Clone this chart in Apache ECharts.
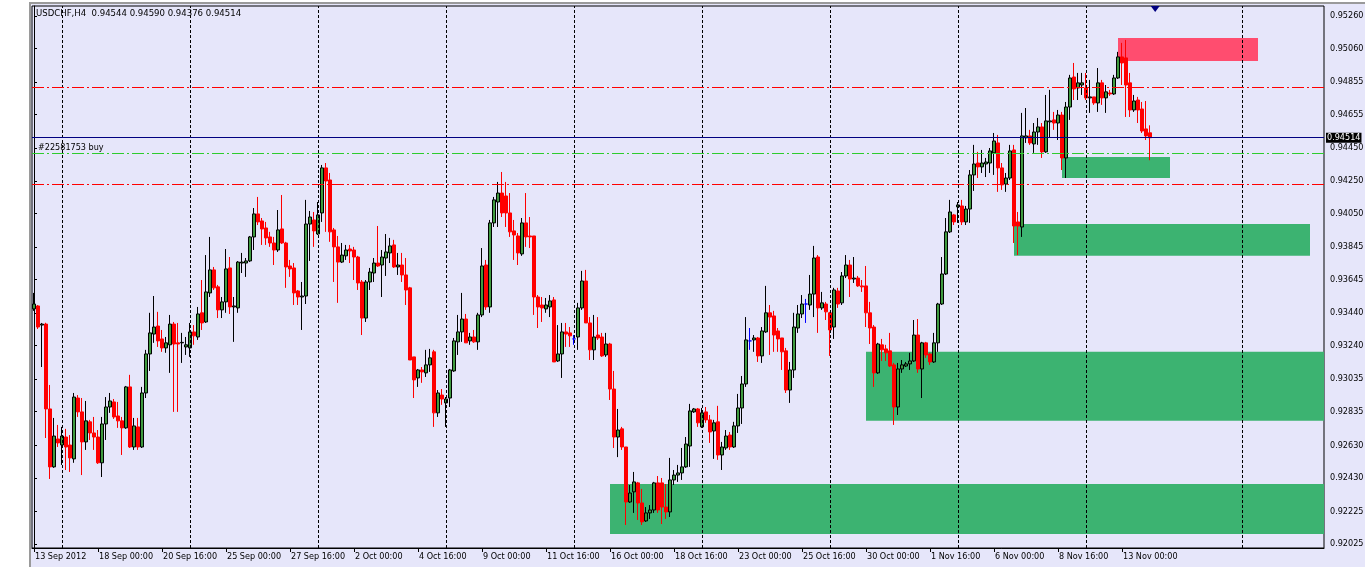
<!DOCTYPE html>
<html><head><meta charset="utf-8">
<script src="https://cdn.jsdelivr.net/npm/echarts@6/dist/echarts.min.js"></script>
<style>
html,body{margin:0;padding:0;background:#fff;overflow:hidden;}
#frame{position:absolute;left:29px;top:2px;width:1334px;height:563px;background:#E6E6FA;border-left:2px solid #9a9a9a;border-top:2px solid #9a9a9a;}
#chart{position:absolute;left:0;top:0;width:1365px;height:567px;}
</style></head><body>
<div id="frame"></div><div id="chart"></div>
<script>
// ---- H4 bars, USDCHF (open / close / low / high) ----
const open = [
0.93465,0.93483,0.93366,0.93372,0.92852,0.92497,0.92668,0.92631,0.92680,0.92631,
0.92546,0.92919,0.92834,0.92650,0.92773,0.92705,0.92680,0.92522,0.92760,0.92864,
0.92895,0.92809,0.92779,0.92736,0.92987,0.92619,0.92742,0.92619,0.92950,0.93189,
0.93311,0.93360,0.93281,0.93226,0.93245,0.93372,0.93257,0.93257,0.93232,0.93226,
0.93324,0.93293,0.93441,0.93385,0.93563,0.93704,0.93600,0.93459,0.93508,0.93716,
0.93477,0.93471,0.93746,0.93746,0.93759,0.93906,0.94047,0.94004,0.93961,0.93906,
0.93869,0.93826,0.93955,0.93869,0.93728,0.93716,0.93575,0.93538,0.93544,0.93985,
0.94010,0.93924,0.94053,0.94329,0.94255,0.93949,0.93845,0.93752,0.93790,0.93832,
0.93826,0.93783,0.93630,0.93409,0.93630,0.93685,0.93746,0.93734,0.93777,0.93808,
0.93857,0.93722,0.93734,0.93673,0.93594,0.93171,0.93042,0.93091,0.93073,0.93122,
0.93202,0.92828,0.92937,0.92889,0.92919,0.93085,0.93263,0.93324,0.93403,0.93269,
0.93293,0.93263,0.93428,0.93734,0.93477,0.93992,0.94120,0.94175,0.94157,0.94053,
0.93943,0.93912,0.93802,0.93992,0.93912,0.93912,0.93538,0.93489,0.93465,0.93477,
0.93520,0.93146,0.93189,0.93324,0.93318,0.93281,0.93293,0.93471,0.93636,0.93379,
0.93214,0.93305,0.93293,0.93183,0.93250,0.92974,0.92680,0.92730,0.92619,0.92282,
0.92344,0.92399,0.92276,0.92166,0.92215,0.92233,0.92399,0.92399,0.92251,0.92221,
0.92417,0.92447,0.92460,0.92497,0.92625,0.92834,0.92852,0.92742,0.92834,0.92785,
0.92717,0.92773,0.92570,0.92613,0.92692,0.92619,0.92748,0.92858,0.93005,0.93269,
0.93275,0.93287,0.93177,0.93324,0.93441,0.93422,0.93330,0.93287,0.93208,0.92968,
0.93091,0.93348,0.93434,0.93495,0.93489,0.93556,0.93783,0.93471,0.93495,0.93441,
0.93354,0.93575,0.93502,0.93667,0.93734,0.93648,0.93654,0.93606,0.93606,0.93441,
0.93354,0.93073,0.93245,0.93220,0.93208,0.93122,0.92864,0.93097,0.93115,0.93128,
0.93146,0.93305,0.93097,0.93257,0.93189,0.93140,0.93257,0.93495,0.93679,0.93937,
0.94041,0.94090,0.94096,0.93998,0.94077,0.94286,0.94359,0.94335,0.94353,0.94359,
0.94421,0.94482,0.94329,0.94230,0.94267,0.94439,0.93998,0.93967,0.94513,0.94525,
0.94476,0.94549,0.94580,0.94427,0.94611,0.94623,0.94604,0.94653,0.94390,0.94702,
0.94886,0.94819,0.94837,0.94819,0.94758,0.94764,0.94727,0.94850,0.94758,0.94788,
0.94782,0.94880,0.95009,0.95003,0.94850,0.94684,0.94745,0.94690,0.94568,0.94544];
const close = [
0.93495,0.93354,0.93372,0.92852,0.92497,0.92686,0.92644,0.92686,0.92619,0.92552,
0.92925,0.92834,0.92650,0.92779,0.92705,0.92680,0.92522,0.92760,0.92864,0.92901,
0.92803,0.92779,0.92736,0.92987,0.92619,0.92748,0.92619,0.92950,0.93189,0.93318,
0.93354,0.93269,0.93226,0.93257,0.93372,0.93250,0.93250,0.93260,0.93245,0.93324,
0.93300,0.93434,0.93379,0.93569,0.93704,0.93594,0.93459,0.93508,0.93710,0.93477,
0.93483,0.93752,0.93752,0.93759,0.93906,0.94047,0.93998,0.93955,0.93900,0.93869,
0.93826,0.93949,0.93869,0.93722,0.93710,0.93563,0.93538,0.93544,0.93985,0.94028,
0.93943,0.94041,0.94329,0.94249,0.93937,0.93845,0.93752,0.93795,0.93826,0.93820,
0.93783,0.93624,0.93409,0.93630,0.93691,0.93746,0.93728,0.93783,0.93814,0.93851,
0.93722,0.93734,0.93673,0.93581,0.93152,0.93030,0.93091,0.93079,0.93122,0.93165,
0.92828,0.92950,0.92913,0.92913,0.93091,0.93269,0.93324,0.93403,0.93257,0.93293,
0.93263,0.93428,0.93728,0.93477,0.93992,0.94133,0.94175,0.94053,0.94053,0.93937,
0.93918,0.93808,0.93992,0.93906,0.93906,0.93538,0.93477,0.93471,0.93489,0.93514,
0.93140,0.93189,0.93324,0.93311,0.93300,0.93281,0.93471,0.93636,0.93379,0.93214,
0.93293,0.93287,0.93177,0.93250,0.92974,0.92680,0.92723,0.92619,0.92282,0.92337,
0.92405,0.92276,0.92160,0.92215,0.92233,0.92399,0.92233,0.92251,0.92221,0.92417,
0.92447,0.92460,0.92497,0.92637,0.92840,0.92852,0.92767,0.92828,0.92785,0.92711,
0.92767,0.92570,0.92619,0.92686,0.92619,0.92748,0.92858,0.93005,0.93275,0.93269,
0.93287,0.93177,0.93330,0.93441,0.93415,0.93305,0.93281,0.93202,0.92968,0.93091,
0.93354,0.93434,0.93495,0.93495,0.93556,0.93777,0.93471,0.93502,0.93447,0.93336,
0.93581,0.93495,0.93667,0.93734,0.93648,0.93654,0.93606,0.93600,0.93441,0.93348,
0.93073,0.93250,0.93214,0.93196,0.93115,0.92864,0.93097,0.93122,0.93128,0.93146,
0.93305,0.93097,0.93257,0.93183,0.93140,0.93257,0.93495,0.93679,0.93937,0.94059,
0.93998,0.94102,0.93998,0.94077,0.94286,0.94353,0.94335,0.94359,0.94365,0.94433,
0.94494,0.94329,0.94225,0.94267,0.94433,0.93973,0.93973,0.94525,0.94525,0.94482,
0.94549,0.94580,0.94427,0.94617,0.94617,0.94604,0.94653,0.94390,0.94702,0.94880,
0.94813,0.94850,0.94850,0.94758,0.94764,0.94727,0.94850,0.94758,0.94795,0.94782,
0.94880,0.95009,0.94972,0.94837,0.94684,0.94739,0.94684,0.94555,0.94525,0.94514];
const low = [
0.93453,0.93342,0.93109,0.92674,0.92423,0.92491,0.92619,0.92509,0.92478,0.92466,
0.92522,0.92803,0.92447,0.92601,0.92662,0.92601,0.92515,0.92435,0.92662,0.92828,
0.92791,0.92736,0.92570,0.92730,0.92613,0.92601,0.92601,0.92613,0.92919,0.93085,
0.93257,0.93232,0.93202,0.93196,0.93073,0.92834,0.92834,0.93134,0.93183,0.93171,
0.93245,0.93275,0.93336,0.93379,0.93538,0.93581,0.93409,0.93409,0.93441,0.93434,
0.93263,0.93441,0.93685,0.93661,0.93752,0.93826,0.93979,0.93857,0.93857,0.93845,
0.93734,0.93814,0.93863,0.93594,0.93661,0.93489,0.93489,0.93336,0.93495,0.93759,
0.93845,0.93918,0.93998,0.93937,0.93876,0.93630,0.93502,0.93746,0.93765,0.93746,
0.93642,0.93581,0.93305,0.93385,0.93581,0.93630,0.93722,0.93538,0.93667,0.93746,
0.93716,0.93673,0.93630,0.93489,0.93152,0.92919,0.92987,0.93012,0.93048,0.93079,
0.92742,0.92803,0.92877,0.92742,0.92864,0.93079,0.93183,0.93263,0.93257,0.93245,
0.93257,0.93214,0.93415,0.93459,0.93441,0.93967,0.93967,0.94028,0.93967,0.93906,
0.93765,0.93734,0.93790,0.93845,0.93838,0.93428,0.93348,0.93385,0.93441,0.93415,
0.93140,0.93140,0.93042,0.93232,0.93232,0.93245,0.93214,0.93459,0.93379,0.93152,
0.93152,0.93275,0.93171,0.93171,0.92907,0.92613,0.92557,0.92601,0.92141,0.92276,
0.92215,0.92172,0.92141,0.92160,0.92178,0.92215,0.92215,0.92147,0.92178,0.92190,
0.92386,0.92405,0.92417,0.92491,0.92497,0.92828,0.92742,0.92736,0.92767,0.92644,
0.92546,0.92540,0.92478,0.92601,0.92601,0.92613,0.92705,0.92760,0.92987,0.93214,
0.93202,0.93140,0.93134,0.93318,0.93183,0.93202,0.93202,0.93091,0.92950,0.92889,
0.93042,0.93318,0.93409,0.93379,0.93459,0.93415,0.93318,0.93459,0.93397,0.93177,
0.93281,0.93471,0.93489,0.93654,0.93538,0.93624,0.93600,0.93569,0.93354,0.93250,
0.92987,0.93067,0.93146,0.93146,0.93109,0.92754,0.92815,0.93073,0.93109,0.93091,
0.93140,0.93073,0.92919,0.93165,0.93122,0.93134,0.93202,0.93489,0.93673,0.93930,
0.93979,0.93992,0.93979,0.93979,0.93992,0.94188,0.94267,0.94298,0.94273,0.94298,
0.94286,0.94182,0.94194,0.94182,0.94255,0.93869,0.93795,0.93906,0.94482,0.94470,
0.94421,0.94470,0.94390,0.94421,0.94513,0.94562,0.94500,0.94316,0.94267,0.94623,
0.94745,0.94745,0.94776,0.94745,0.94666,0.94715,0.94672,0.94715,0.94666,0.94770,
0.94776,0.94874,0.94837,0.94641,0.94641,0.94672,0.94604,0.94543,0.94500,0.94376];
const high = [
0.93563,0.93489,0.93379,0.93380,0.92999,0.92797,0.92754,0.92742,0.92730,0.92692,
0.92950,0.92937,0.92919,0.92901,0.92785,0.92803,0.92723,0.92803,0.92925,0.92950,
0.92913,0.92895,0.92803,0.92993,0.93061,0.92797,0.92797,0.92987,0.93214,0.93441,
0.93544,0.93447,0.93336,0.93293,0.93428,0.93385,0.93379,0.93318,0.93293,0.93379,
0.93366,0.93477,0.93642,0.93795,0.93906,0.93722,0.93612,0.93538,0.93832,0.93783,
0.93538,0.93758,0.93808,0.93777,0.93912,0.94083,0.94151,0.94022,0.93998,0.93937,
0.93906,0.94071,0.94163,0.93876,0.93765,0.93746,0.93581,0.93630,0.94133,0.94065,
0.94059,0.94120,0.94347,0.94359,0.94298,0.93961,0.93912,0.93869,0.93857,0.93857,
0.93845,0.93790,0.93642,0.93642,0.93716,0.93777,0.93973,0.93826,0.93924,0.93900,
0.93888,0.93808,0.93808,0.93777,0.93600,0.93171,0.93097,0.93109,0.93214,0.93220,
0.93214,0.92968,0.92974,0.92925,0.93097,0.93287,0.93428,0.93563,0.93434,0.93318,
0.93336,0.93441,0.93838,0.93765,0.94010,0.94151,0.94243,0.94304,0.94243,0.94175,
0.94010,0.93930,0.94022,0.94175,0.94028,0.93912,0.93550,0.93538,0.93532,0.93550,
0.93538,0.93366,0.93379,0.93379,0.93354,0.93305,0.93502,0.93698,0.93704,0.93415,
0.93428,0.93415,0.93318,0.93318,0.93257,0.93085,0.92852,0.92742,0.92619,0.92386,
0.92466,0.92405,0.92362,0.92251,0.92263,0.92405,0.92441,0.92429,0.92392,0.92552,
0.92478,0.92509,0.92613,0.92680,0.92883,0.92858,0.92858,0.92858,0.92864,0.92815,
0.92785,0.92871,0.92650,0.92723,0.92711,0.92773,0.92944,0.93054,0.93415,0.93348,
0.93305,0.93293,0.93354,0.93606,0.93489,0.93453,0.93348,0.93287,0.93226,0.93140,
0.93441,0.93489,0.93550,0.93526,0.93673,0.93851,0.93795,0.93569,0.93508,0.93447,
0.93594,0.93594,0.93691,0.93795,0.93765,0.93783,0.93667,0.93642,0.93728,0.93508,
0.93366,0.93257,0.93281,0.93245,0.93318,0.93134,0.93134,0.93152,0.93140,0.93196,
0.93397,0.93403,0.93263,0.93263,0.93196,0.93318,0.93502,0.93783,0.94022,0.94133,
0.94047,0.94120,0.94133,0.94096,0.94316,0.94470,0.94427,0.94439,0.94390,0.94451,
0.94543,0.94531,0.94359,0.94298,0.94470,0.94470,0.94059,0.94666,0.94696,0.94562,
0.94604,0.94635,0.94604,0.94776,0.94807,0.94672,0.94684,0.94672,0.94733,0.94899,
0.94972,0.94911,0.94911,0.94911,0.94868,0.94764,0.94941,0.94868,0.94837,0.94807,
0.94899,0.95040,0.95095,0.95113,0.94911,0.94776,0.94764,0.94733,0.94739,0.94590];
const dojiBars = [135, 179, 193];           // open == close, drawn in blue

// ---- axes ----
const slotCount = 323;                       // bars + chart shift area
const dateLabels = ['13 Sep 2012','18 Sep 00:00','20 Sep 16:00','25 Sep 00:00','27 Sep 16:00',
  '2 Oct 00:00','4 Oct 16:00','9 Oct 00:00','11 Oct 16:00','16 Oct 00:00','18 Oct 16:00',
  '23 Oct 00:00','25 Oct 16:00','30 Oct 00:00','1 Nov 16:00','6 Nov 00:00','8 Nov 16:00','13 Nov 00:00'];
const labelStep = 16;
const priceTicks = [0.95260,0.95060,0.94855,0.94655,0.94450,0.94250,0.94050,0.93845,0.93645,
  0.93440,0.93240,0.93035,0.92835,0.92630,0.92430,0.92225,0.92025];
const priceMin = 0.92000, priceMax = 0.95321;
const gridBars = [7, 39, 71, 103, 135, 167, 199, 231, 263, 302];

// ---- objects ----
const title = 'USDCHF,H4  0.94544 0.94590 0.94376 0.94514';
const bidPrice = 0.94514;
const orderLevel = 0.94417, orderLabel = '#22581753 buy';
const resistanceLines = [0.94822, 0.94228];
// zones: [fromBar, toBar, top, bottom]
const demandZones = [
  [144, 322.5, 0.92392, 0.92086],
  [208, 322.5, 0.93202, 0.92779],
  [245, 319, 0.93985, 0.93790],
  [257, 284, 0.94396, 0.94267]];
const supplyZones = [[271, 306, 0.95125, 0.94984]];
const shiftMarkBar = 280.3;

const FONT = "'DejaVu Sans Condensed','DejaVu Sans',sans-serif";
const FS = 9;
const chart = echarts.init(document.getElementById('chart'), null, {renderer: 'canvas'});
const slots = Array.from({length: slotCount}, (_, i) => String(i));
const candles = open.map((o, i) => {
  const item = {value: [o, close[i], low[i], high[i]]};
  if (dojiBars.includes(i)) item.itemStyle = {color: '#0000ff', color0: '#0000ff', borderColor: '#0000ff', borderColor0: '#0000ff'};
  return item;
});
const showLabel = (idx) => idx % labelStep === 0 && idx / labelStep < dateLabels.length;
const zoneData = [];
demandZones.forEach(z => zoneData.push([{xAxis: z[0], yAxis: z[2], itemStyle: {color: '#3CB371', opacity: 1}}, {xAxis: z[1], yAxis: z[3]}]));
supplyZones.forEach(z => zoneData.push([{xAxis: z[0], yAxis: z[2], itemStyle: {color: '#FF4D6F', opacity: 1}}, {xAxis: z[1], yAxis: z[3]}]));
const dashDot = [12, 3, 2, 3];

chart.setOption({
  animation: false,
  title: {text: title, left: 36, top: 9, padding: 0,
    textStyle: {fontSize: 9.5, fontWeight: 'normal', color: '#000', fontFamily: FONT}},
  grid: {left: 32, right: 41, top: 6, bottom: 19, show: true, borderColor: '#000', borderWidth: 1,
    backgroundColor: 'transparent', containLabel: false, outerBoundsMode: 'none'},
  xAxis: [{
    type: 'category', data: slots, boundaryGap: true,
    axisLine: {show: true, lineStyle: {color: '#000'}},
    axisTick: {show: true, alignWithLabel: true, interval: showLabel, length: 4, lineStyle: {color: '#000'}},
    axisLabel: {show: true, interval: showLabel, align: 'left', margin: 4, padding: [0, 0, 0, 1],
      fontSize: FS, color: '#000', fontFamily: FONT,
      formatter: (v, idx) => dateLabels[idx / labelStep] || ''},
    splitLine: {show: false}
  }, {
    type: 'value', min: -0.5, max: slotCount - 0.5, show: false
  }],
  yAxis: {
    type: 'value', position: 'right', min: priceMin, max: priceMax, scale: true,
    axisLine: {show: true, lineStyle: {color: '#000'}},
    axisTick: {show: true, customValues: priceTicks, length: 3, lineStyle: {color: '#000'}},
    axisLabel: {show: true, customValues: priceTicks, margin: 6, fontSize: FS, color: '#000', fontFamily: FONT,
      formatter: v => v.toFixed(5)},
    splitLine: {show: false}
  },
  series: [{
    type: 'line', xAxisIndex: 1, data: [], z: 1, silent: true,
    markArea: {silent: true, itemStyle: {borderWidth: 0, opacity: 1}, data: zoneData}
  }, {
    type: 'line', xAxisIndex: 1, data: [], z: 2, silent: true,
    markLine: {silent: true, symbol: ['none', 'none'], label: {show: false}, precision: 5,
      lineStyle: {color: '#000', type: [3, 2], width: 1, opacity: 1},
      data: gridBars.map(b => ({xAxis: b}))},
    markPoint: {silent: true, label: {show: false},
      data: [{coord: [shiftMarkBar, priceMax], symbol: 'triangle', symbolSize: [9, 6], symbolRotate: 180,
        symbolOffset: [0, 3], itemStyle: {color: '#000080'}}]}
  }, {
    type: 'candlestick', xAxisIndex: 0, z: 3, barWidth: 3, data: candles,
    itemStyle: {color: '#3f9a3f', color0: '#ff0000', borderColor: '#000', borderColor0: '#ff0000', borderWidth: 1}
  }, {
    type: 'line', xAxisIndex: 1, data: [], z: 4, silent: true,
    markLine: {silent: true, symbol: ['none', 'none'], animation: false, precision: 5,
      data: [
        ...resistanceLines.map(v => ({yAxis: v, lineStyle: {color: '#ff0000', type: dashDot, width: 1}, label: {show: false}})),
        {yAxis: orderLevel, lineStyle: {color: '#2ecc2e', type: dashDot, width: 1},
          label: {show: true, position: 'insideStartTop', formatter: orderLabel, color: '#000', fontSize: FS, fontFamily: FONT, distance: [6, 1]}},
        {yAxis: bidPrice, lineStyle: {color: '#000080', type: 'solid', width: 1},
          label: {show: true, position: 'end', formatter: bidPrice.toFixed(5), color: '#fff', backgroundColor: '#000',
            padding: [1, 1, 0, 1], distance: 2, fontSize: FS, fontFamily: FONT}}
      ]}
  }]
});
</script></body></html>
